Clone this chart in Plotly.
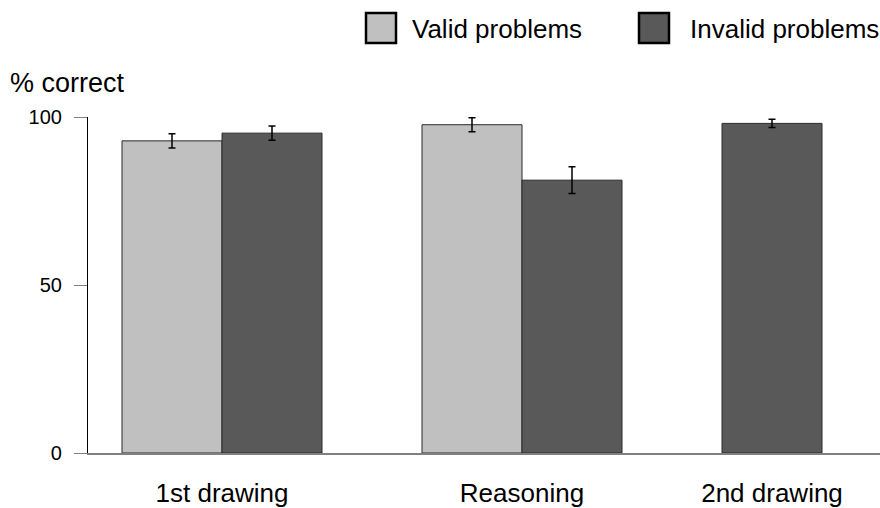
import plotly.graph_objects as go

# Accuracy per task phase (percent correct) with error-bar half-lengths
categories = ["1st drawing", "Reasoning", "2nd drawing"]
series_names = ["Valid problems", "Invalid problems"]
valid_values = [92.9, 97.7, None]
valid_errors = [2.1, 2.1, None]
invalid_values = [95.2, 81.2, 98.1]
invalid_errors = [2.1, 4.0, 1.25]
y_ticks = [0, 50, 100]

colors = ["#c0c0c0", "#595959"]
W, H = 880, 508
L, R, T, B = 88, 0, 117, 55

# Bar slot layout: every present bar takes one slot, one empty slot between groups
series_vals = [valid_values, invalid_values]
series_errs = [valid_errors, invalid_errors]
slot_x = [[None] * len(categories) for _ in series_vals]
group_centers = []
cursor = 0
for ci in range(len(categories)):
    start = cursor
    for si, vals in enumerate(series_vals):
        if vals[ci] is not None:
            slot_x[si][ci] = cursor + 0.5
            cursor += 1
    group_centers.append((start + cursor) / 2)
    cursor += 1

fig = go.Figure()
for si, name in enumerate(series_names):
    xs, ys, es = [], [], []
    for ci in range(len(categories)):
        if series_vals[si][ci] is not None:
            xs.append(slot_x[si][ci])
            ys.append(series_vals[si][ci])
            es.append(series_errs[si][ci])
    fig.add_trace(go.Bar(
        x=xs, y=ys, name=name, width=1.0,
        marker=dict(color=colors[si], line=dict(color="#2a2a2a", width=1)),
        error_y=dict(type="data", array=es, visible=True, color="black",
                     thickness=1.5, width=3.5),
        showlegend=False,
    ))

plot_w = W - L - R
plot_h = H - T - B
# x range in slot units so slot 0 starts 34 px right of the y axis
x0 = -34 / 100
x1 = x0 + plot_w / 100


def px_x(p):
    return (p - L) / plot_w


def px_y(p):
    return (H - B - p) / plot_h


font_family = "Liberation Sans, Arial, sans-serif"

# Legend drawn as framed swatches with labels
legend_items = [(366, 410), (639, 688)]
shapes = []
annotations = []
for (sx, tx), name, col in zip(legend_items, series_names, colors):
    shapes.append(dict(type="rect", xref="paper", yref="paper",
                       x0=px_x(sx), x1=px_x(sx + 30), y0=px_y(43), y1=px_y(13),
                       fillcolor=col, line=dict(color="black", width=2.5)))
    annotations.append(dict(text=name, xref="paper", yref="paper",
                            x=px_x(tx), y=px_y(29), xanchor="left", yanchor="middle",
                            showarrow=False, font=dict(size=26, color="black", family=font_family)))

annotations.append(dict(text="% correct", xref="paper", yref="paper",
                        x=px_x(8), y=px_y(83), xanchor="left", yanchor="middle",
                        showarrow=False, font=dict(size=27, color="black", family=font_family)))

fig.update_layout(
    width=W, height=H,
    margin=dict(l=L, r=R, t=T, b=B, pad=0, autoexpand=False),
    paper_bgcolor="white", plot_bgcolor="white",
    barmode="overlay",
    font=dict(family=font_family, color="black"),
    shapes=shapes, annotations=annotations,
    xaxis=dict(range=[x0, x1], tickvals=group_centers, ticktext=categories,
               automargin=False,
               showgrid=False, zeroline=False, showline=True, linecolor="#808080",
               linewidth=1.5, ticks="", ticklabelstandoff=16,
               tickfont=dict(size=26, family=font_family, color="black")),
    yaxis=dict(range=[0, 100], tickvals=y_ticks, showgrid=False, zeroline=False,
               automargin=False,
               showline=True, linecolor="black", linewidth=1.2,
               ticks="outside", ticklen=13, tickcolor="#808080", tickwidth=1.2,
               ticklabelstandoff=8,
               tickfont=dict(size=20, family=font_family, color="black")),
)

fig.write_html("out.html")
